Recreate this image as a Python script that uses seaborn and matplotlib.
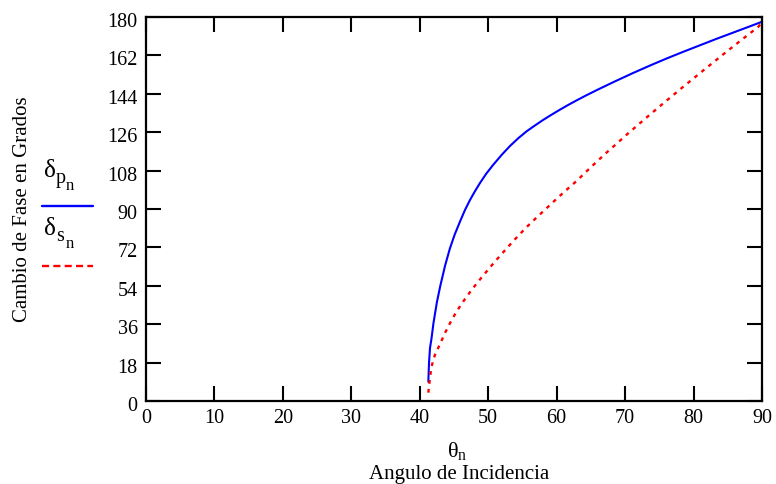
import numpy as np
import pandas as pd
import seaborn as sns
import matplotlib.pyplot as plt
from matplotlib.lines import Line2D
from matplotlib.transforms import ScaledTranslation

# angulo de incidencia (grados) y cambio de fase
theta_p = [41.25, 41.35, 41.5, 41.7, 42.0, 42.5, 43.0, 43.7, 44.4, 45.1, 45.9,
           46.6, 47.3, 48.0, 48.8, 49.7, 50.7, 52.0, 53.2, 54.4, 55.6, 56.8,
           58.0, 59.3, 60.5, 61.7, 62.9, 64.4, 65.9, 68.5, 71.2, 73.6, 76.1,
           78.5, 80.9, 83.3, 85.8, 87.8, 89.95]
delta_p = [9.0, 18.0, 25.0, 29.0, 36.5, 46.3, 54.0, 63.5, 71.5, 78.0, 84.3,
           89.5, 94.0, 98.0, 102.2, 106.5, 110.6, 115.5, 119.6, 123.2, 126.4,
           129.1, 131.7, 134.3, 136.6, 138.8, 140.9, 143.4, 145.8, 149.8, 153.8,
           157.2, 160.6, 163.7, 166.7, 169.7, 172.7, 175.1, 177.7]

theta_s = [41.25, 41.5, 41.7, 42.2, 43.0, 43.7, 44.4, 45.2, 46.1, 47.0, 47.8,
           49.0, 50.3, 51.6, 52.9, 54.2, 55.6, 57.0, 58.5, 60.0, 61.2, 62.9,
           65.0, 67.1, 69.0, 70.0, 72.7, 74.9, 78.0, 80.9, 84.8, 87.3, 89.5,
           89.95]
delta_s = [3.9, 11.0, 16.0, 21.5, 27.0, 32.0, 36.4, 41.0, 45.5, 49.6, 53.0,
           57.8, 62.8, 67.6, 72.3, 76.8, 81.5, 85.8, 90.3, 94.8, 98.3, 103.1,
           109.6, 115.9, 121.3, 124.2, 131.7, 137.7, 146.0, 153.6, 163.7, 170.0,
           175.5, 177.5]

x_ticks = list(range(0, 91, 10))
y_ticks = list(range(0, 181, 18))

sns.set_style("ticks")
plt.rcParams['font.family'] = ['Liberation Serif', 'DejaVu Serif']
plt.rcParams['mathtext.fontset'] = 'custom'
plt.rcParams['mathtext.rm'] = 'Liberation Serif'
plt.rcParams['mathtext.it'] = 'Liberation Serif:italic'
plt.rcParams['text.color'] = 'black'

df_p = pd.DataFrame({'theta': theta_p, 'delta': delta_p})
df_s = pd.DataFrame({'theta': theta_s, 'delta': delta_s})

fig = plt.figure(figsize=(7.76, 4.84), dpi=100)
ax = fig.add_axes([146 / 776, 1 - 401 / 484, 616 / 776, 384 / 484])

sns.lineplot(data=df_p, x='theta', y='delta', ax=ax, color='#0000ff',
             linewidth=1.5, sort=False)
sns.lineplot(data=df_s, x='theta', y='delta', ax=ax, color='#ff0000',
             linewidth=1.7, linestyle=(0, (1.6, 2.2)), sort=False)

ax.set_xlim(0, 90)
ax.set_ylim(0, 180)
ax.set_xticks(x_ticks)
ax.set_yticks(y_ticks)
ax.set_xlabel('')
ax.set_ylabel('')
ax.tick_params(direction='in', length=11, width=1.5, labelsize=14.5,
               top=True, right=True, pad=6, colors='black')
ax.tick_params(axis='x', pad=6)
for sp in ax.spines.values():
    sp.set_linewidth(1.6)
    sp.set_color('black')
# Mathcad pone las etiquetas del eje y un poco por debajo de la marca
for lbl in ax.get_yticklabels():
    lbl.set_transform(lbl.get_transform() +
                      ScaledTranslation(0, -3 / 100, fig.dpi_scale_trans))

fig.text(23 / 776, 1 - 209 / 484, 'Cambio de Fase en Grados', rotation=90,
         ha='center', va='center', fontsize=15)
fig.text(457 / 776, 1 - 451 / 484, r'$\mathrm{\theta_n}$', ha='center',
         va='center', fontsize=16)
fig.text(459 / 776, 1 - 474 / 484, 'Angulo de Incidencia', ha='center',
         va='center', fontsize=15)


def fx(px):
    return px / 776


def fy(py):
    return 1 - py / 484


# leyenda a la izquierda, estilo Mathcad (delta con subindices apilados)
for sub, y0, yl, col, ls in [('p', 177, 206, '#0000ff', '-'),
                             ('s', 235, 266, '#ff0000', (0, (3, 1.8)))]:
    fig.text(fx(44), fy(y0), '\u03b4', ha='left', va='baseline', fontsize=18)
    fig.text(fx(56), fy(y0 + 6), sub, ha='left', va='baseline', fontsize=14.5)
    fig.text(fx(66), fy(y0 + 13), 'n', ha='left', va='baseline', fontsize=12)
    fig.add_artist(Line2D([fx(42), fx(93)], [fy(yl), fy(yl)],
                          color=col, linewidth=1.7, linestyle=ls))

fig.savefig('out.png', dpi=100)
